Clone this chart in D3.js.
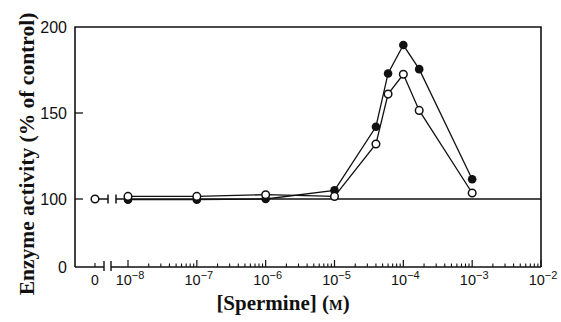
<!DOCTYPE html>
<html>
<head>
<meta charset="utf-8">
<script src="https://cdn.jsdelivr.net/npm/d3@7"></script>
<style>
  body { margin: 0; background: #fff; }
  svg { display: block; }
</style>
</head>
<body>
<div id="chart"></div>
<script>
// spermine concentrations (M) and enzyme activity (% of control)
const conc = [1e-8, 1e-7, 1e-6, 1e-5, 4e-5, 6e-5, 1e-4, 1.7e-4, 1e-3];
const filledSeries = [99, 99, 100, 105, 142, 173, 189.5, 175.5, 111.5];
const openSeries = [101.5, 101.5, 102.5, 101.5, 132, 161, 172.5, 151.5, 103.5];
const controlValue = 100;
const yTicks = [0, 100, 150, 200];
const decades = [-8, -7, -6, -5, -4, -3, -2];

const width = 561, height = 322;
const mLeft = 75, mRight = 541, mTop = 27, mBottom = 267;

const svg = d3.select("#chart").append("svg")
  .attr("width", width)
  .attr("height", height);

// x: log part for the concentrations, a separate point for "0"
const x = d3.scaleLog().domain([1e-8, 1e-2]).range([128, mRight]);
const x0 = d3.scalePoint().domain(["0"]).range([90, 100]);
// y: broken axis, 0-100 squeezed below the 100-200 part
const y = d3.scaleLinear().domain([0, 100, 200]).range([mBottom, 199, mTop]);

const ink = "#111";

// frame: left, top, right
svg.append("path")
  .attr("d", `M${mLeft},${mBottom}V${mTop}H${mRight}V${mBottom}`)
  .attr("fill", "none")
  .attr("stroke", ink)
  .attr("stroke-width", 1.6);

// bottom axis with a break after the zero point
const bx1 = x0("0") + 9, bx2 = x0("0") + 16;
svg.append("path")
  .attr("d", `M${mLeft},${mBottom}H${bx1}M${bx2},${mBottom}H${mRight}`)
  .attr("stroke", ink)
  .attr("stroke-width", 1.4);
[bx1, bx2].forEach((bx) => {
  svg.append("line")
    .attr("x1", bx).attr("x2", bx)
    .attr("y1", mBottom - 6).attr("y2", mBottom + 4)
    .attr("stroke", ink).attr("stroke-width", 1.4);
});

// log ticks pointing up
const minor = [];
decades.forEach((e) => {
  if (e < -2) for (let k = 2; k <= 9; k++) minor.push(k * Math.pow(10, e));
});
svg.selectAll(".minor").data(minor).enter().append("line")
  .attr("x1", (d) => x(d)).attr("x2", (d) => x(d))
  .attr("y1", mBottom).attr("y2", mBottom - 3.5)
  .attr("stroke", ink).attr("stroke-width", 1.1);
svg.selectAll(".major").data(decades).enter().append("line")
  .attr("x1", (d) => x(Math.pow(10, d))).attr("x2", (d) => x(Math.pow(10, d)))
  .attr("y1", mBottom).attr("y2", mBottom - 7)
  .attr("stroke", ink).attr("stroke-width", 1.2);
svg.append("line")
  .attr("x1", x0("0")).attr("x2", x0("0"))
  .attr("y1", mBottom).attr("y2", mBottom - 4)
  .attr("stroke", ink).attr("stroke-width", 1.1);

// x tick labels
const tickFont = "'Liberation Sans', Arial, sans-serif";
svg.append("text")
  .attr("x", x0("0")).attr("y", 285)
  .attr("text-anchor", "middle")
  .attr("font-family", tickFont).attr("font-size", 14)
  .attr("fill", ink)
  .text("0");
const lab = svg.selectAll(".xl").data(decades).enter().append("text")
  .attr("x", (d) => x(Math.pow(10, d)) + 2).attr("y", 285)
  .attr("text-anchor", "middle")
  .attr("font-family", tickFont).attr("font-size", 14.5)
  .attr("fill", ink);
lab.append("tspan").text("10");
lab.append("tspan").attr("dy", -6).attr("font-size", 11)
  .text((d) => "\u2212" + Math.abs(d));

// y ticks and labels
svg.selectAll(".yt").data(yTicks.filter((d) => d > 0 && d < 200)).enter().append("line")
  .attr("x1", mLeft).attr("x2", mLeft + 8)
  .attr("y1", (d) => y(d)).attr("y2", (d) => y(d))
  .attr("stroke", ink).attr("stroke-width", 1.3);
svg.selectAll(".yl").data(yTicks).enter().append("text")
  .attr("x", 67).attr("y", (d) => y(d) + 5.5)
  .attr("text-anchor", "end")
  .attr("font-family", tickFont).attr("font-size", 16)
  .attr("fill", ink)
  .text((d) => d);

// 100 % reference line with its own break
const lx1 = x0("0") + 13, lx2 = x0("0") + 21;
svg.append("path")
  .attr("d", `M${x0("0")},${y(controlValue)}H${lx1}M${lx2},${y(controlValue)}H${mRight}`)
  .attr("stroke", ink)
  .attr("stroke-width", 1.3);
[lx1, lx2].forEach((lx) => {
  svg.append("line")
    .attr("x1", lx).attr("x2", lx)
    .attr("y1", y(controlValue) - 4.5).attr("y2", y(controlValue) + 4.5)
    .attr("stroke", ink).attr("stroke-width", 1.5);
});

// series lines
const line = d3.line().x((d) => x(d[0])).y((d) => y(d[1]));
const filledPts = conc.map((c, i) => [c, filledSeries[i]]);
const openPts = conc.map((c, i) => [c, openSeries[i]]);
[filledPts, openPts].forEach((pts) => {
  svg.append("path")
    .attr("d", line(pts))
    .attr("fill", "none")
    .attr("stroke", ink)
    .attr("stroke-width", 1.3);
});

// markers: filled first, open on top
svg.selectAll(".fdot").data(filledPts).enter().append("circle")
  .attr("cx", (d) => x(d[0])).attr("cy", (d) => y(d[1]))
  .attr("r", 4.3)
  .attr("fill", ink);
svg.selectAll(".odot").data(openPts).enter().append("circle")
  .attr("cx", (d) => x(d[0])).attr("cy", (d) => y(d[1]))
  .attr("r", 3.8)
  .attr("fill", "#fff")
  .attr("stroke", ink)
  .attr("stroke-width", 1.5);
svg.append("circle")
  .attr("cx", x0("0")).attr("cy", y(controlValue))
  .attr("r", 3.8)
  .attr("fill", "#fff")
  .attr("stroke", ink)
  .attr("stroke-width", 1.5);

// axis titles
const titleFont = "'Liberation Serif', 'Times New Roman', serif";
const xt = svg.append("text")
  .attr("x", 283).attr("y", 310)
  .attr("text-anchor", "middle")
  .attr("font-family", titleFont).attr("font-size", 21)
  .attr("font-weight", "bold")
  .attr("fill", ink);
xt.append("tspan").text("[Spermine] (");
xt.append("tspan").attr("font-size", 14.5).text("M");
xt.append("tspan").text(")");

svg.append("text")
  .attr("transform", "translate(34,154) rotate(-90)")
  .attr("text-anchor", "middle")
  .attr("font-family", titleFont).attr("font-size", 21.5)
  .attr("font-weight", "bold")
  .attr("fill", ink)
  .text("Enzyme activity (% of control)");
</script>
</body>
</html>
